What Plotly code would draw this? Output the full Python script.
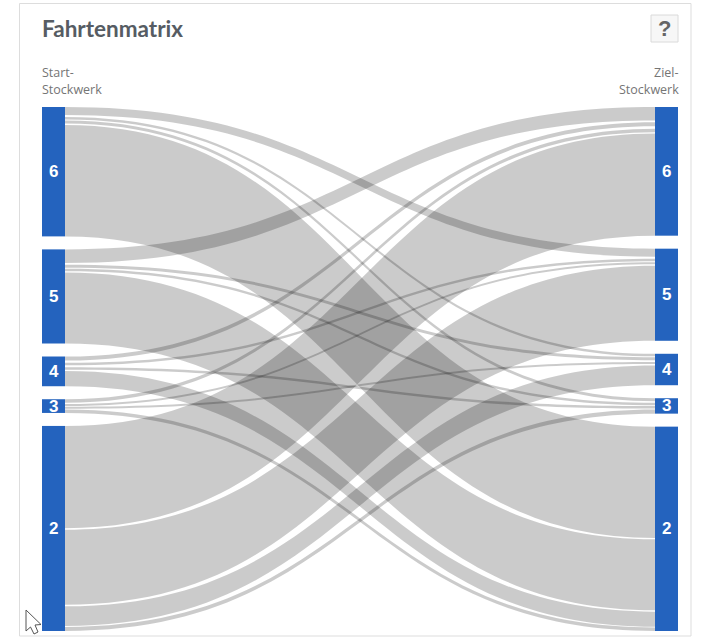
import plotly.graph_objects as go

W, H = 702, 638

# Floors, top to bottom
floors = ["6", "5", "4", "3", "2"]

# Trips, one list per start floor, in the order the bands leave the node
from_6 = {"5": 8, "4": 2.5, "3": 3, "2": 110.5}
from_5 = {"6": 13.5, "4": 3, "3": 2.5, "2": 70.5}
from_4 = {"6": 4, "5": 2.5, "3": 2.5, "2": 15}
from_3 = {"6": 3.5, "5": 2, "4": 2, "2": 3.5}
from_2 = {"6": 101.5, "5": 74.5, "4": 19.5, "3": 4}
trips = {"6": from_6, "5": from_5, "4": from_4, "3": from_3, "2": from_2}

# Thin blank separators between neighbouring bands (start, target, size)
blank_before = [("3", "4", 0.7), ("2", "5", 1.5), ("2", "4", 1.5), ("2", "3", 1.0),
                ("5", "2", 1.2), ("4", "2", 1.4), ("3", "2", 0.7), ("4", "3", 0.8)]
blank_after = [("6", "5", 1.9), ("6", "4", 1.0), ("6", "3", 1.5), ("5", "6", 1.7),
               ("3", "6", 1.2), ("4", "6", 2.3), ("4", "5", 1.0), ("5", "4", 1.0)]

TITLE = "Fahrtenmatrix"
LEFT_HEAD = ["Start-", "Stockwerk"]
RIGHT_HEAD = ["Ziel-", "Stockwerk"]

NODE = "#2463BE"
BAND = "rgba(0,0,0,0.205)"
NONE = "rgba(0,0,0,0)"
TOP, BOTTOM, X0, X1, PAD, THICK = 107, 631, 42, 678, 13, 23

n = len(floors)
idx_l = {f: i for i, f in enumerate(floors)}
idx_r = {f: i + n for i, f in enumerate(floors)}

src, tgt, val, col = [], [], [], []
def add(s, t, v, c):
    src.append(idx_l[s]); tgt.append(idx_r[t]); val.append(v); col.append(c)

for s, t, v in blank_before:
    add(s, t, v, NONE)
for s in floors:
    for t, v in trips[s].items():
        add(s, t, v, BAND)
for s, t, v in blank_after:
    add(s, t, v, NONE)

# Node totals decide where each stack sits
tot_l = [sum(v for a, v in zip(src, val) if a == i) for i in range(n)]
tot_r = [sum(v for a, v in zip(tgt, val) if a == i + n) for i in range(n)]
height = BOTTOM - TOP
width = X1 - X0
k = min((height - (n - 1) * PAD) / sum(tot_l), (height - (n - 1) * PAD) / sum(tot_r))

def centres(tots):
    out, y = [], 0.0
    for t in tots:
        out.append(y + t * k / 2)
        y += t * k + PAD
    return out

cl, cr = centres(tot_l), centres(tot_r)
node_y = [c / height for c in cl + cr]
node_x = [THICK / 2 / width] * n + [1 - THICK / 2 / width] * n

fig = go.Figure(go.Sankey(
    arrangement="fixed",
    domain=dict(x=[X0 / W, X1 / W], y=[1 - BOTTOM / H, 1 - TOP / H]),
    node=dict(label=[""] * (2 * n), color=NODE, thickness=THICK, pad=PAD,
              line=dict(width=0), x=node_x, y=node_y, hoverinfo="skip"),
    link=dict(source=src, target=tgt, value=val, color=col, hoverinfo="skip"),
))

def px(x): return x / W
def py(y): return 1 - y / H

ann = []
def text(x, y, s, size, color, anchor="left", family="Lato", bold=False):
    ann.append(dict(x=px(x), y=py(y), xref="paper", yref="paper", text=f"<b>{s}</b>" if bold else s,
                    showarrow=False, xanchor=anchor, yanchor="middle",
                    font=dict(family=family, size=size, color=color)))

text(39.5, 29, TITLE, 22.5, "#565C63", bold=True)
text(39.5, 72, LEFT_HEAD[0], 12.5, "#757575", family="Open Sans")
text(39.5, 90, LEFT_HEAD[1], 12.5, "#757575", family="Open Sans")
text(681, 72, RIGHT_HEAD[0], 12.5, "#757575", "right", family="Open Sans")
text(681, 90, RIGHT_HEAD[1], 12.5, "#757575", "right", family="Open Sans")
text(664.5, 29, "?", 22, "#666666", "center", "Liberation Sans", True)
for f, c in zip(floors, cl):
    text(53.5, TOP + c, f, 17, "white", "center", "Liberation Sans", True)
for f, c in zip(floors, cr):
    text(666.5, TOP + c, f, 17, "white", "center", "Liberation Sans", True)

def rect(x0, y0, x1, y1, line, fill="rgba(0,0,0,0)", layer="below"):
    return dict(type="rect", xref="paper", yref="paper", x0=px(x0), x1=px(x1), y0=py(y0), y1=py(y1),
                line=dict(color=line, width=1), fillcolor=fill, layer=layer)

cursor = [(26, 610), (26, 631), (30.5, 627), (34, 634), (38, 632), (35, 625), (41, 624.5)]
cursor_path = "M " + " L ".join(f"{px(a)},{py(b)}" for a, b in cursor) + " Z"

fig.update_layout(
    width=W, height=H, autosize=False, margin=dict(l=0, r=0, t=0, b=0),
    paper_bgcolor="white", plot_bgcolor="white", annotations=ann,
    shapes=[
        rect(19.5, 3.5, 691, 636, "#DDDDDD"),
        rect(651, 15, 678, 42, "#DADADA", "#F7F7F7"),
        dict(type="path", xref="paper", yref="paper", path=cursor_path, fillcolor="white",
             line=dict(color="#555555", width=1), layer="above"),
    ],
)
fig.write_html("out.html", config=dict(displayModeBar=False),
               post_script="document.body.style.margin='0';")
